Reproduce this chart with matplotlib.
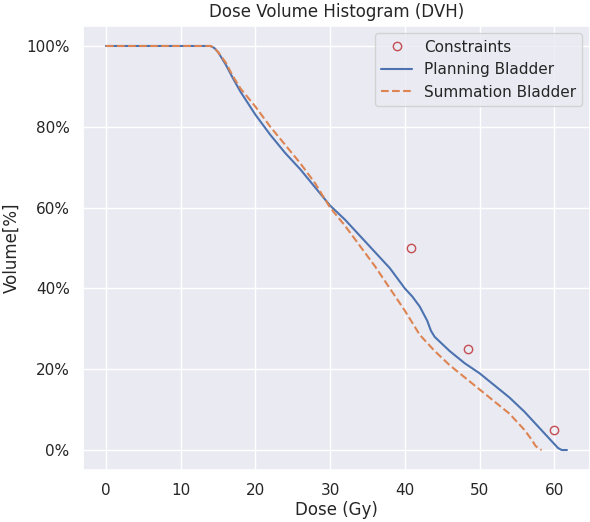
import matplotlib
matplotlib.use("Agg")
import matplotlib.pyplot as plt
from matplotlib.ticker import PercentFormatter
import seaborn as sns

sns.set_theme()

# Planning DVH (dose in Gy, volume in %)
plan_dose = [0, 14, 14.5, 15, 16, 17, 18, 20, 22, 24, 26, 28, 30, 32, 34, 36, 38,
             40, 41, 42, 43, 43.5, 44, 46, 48, 50, 52, 54, 56, 57, 58, 59, 60,
             60.5, 61, 61.7]
plan_vol = [100, 100, 99.5, 98.5, 95.5, 92, 88.7, 83, 78, 73.5, 69.5, 65, 60.5,
            57, 53, 49, 45, 40, 38, 35.5, 32, 29.5, 28, 24.5, 21.5, 19, 16, 13,
            9.5, 7.5, 5.5, 3.5, 1.5, 0.5, 0, 0]

# Summation DVH
sum_dose = [0, 14, 14.5, 15, 16, 17, 18, 20, 22, 24, 26, 28, 30, 32, 34, 36, 38,
            40, 41, 42, 43, 44, 46, 48, 50, 52, 54, 55, 56, 57, 57.5, 58, 58.3]
sum_vol = [100, 100, 99.5, 98.5, 96, 92.5, 89.5, 85, 80, 75.5, 71, 66, 60, 55.5,
           50.5, 45.5, 40, 34.5, 31.5, 28.5, 26.5, 24.5, 21, 18, 15, 12, 9, 7, 5,
           2.5, 1, 0.3, 0]

# Dose constraints
con_dose = [40.8, 48.5, 60]
con_vol = [50, 25, 5]

fig, ax = plt.subplots(figsize=(5.9, 5.22), dpi=100)
fig.subplots_adjust(left=0.1405, right=1.0, top=0.9506, bottom=0.0992)

ax.plot(con_dose, con_vol, "o", mfc="none", mec="C3", label="Constraints")
ax.plot(plan_dose, plan_vol, "-", color="C0", label="Planning Bladder")
ax.plot(sum_dose, sum_vol, "--", color="C1", label="Summation Bladder")

ax.yaxis.set_major_formatter(PercentFormatter(100, decimals=0))
ax.set_title("Dose Volume Histogram (DVH)")
ax.set_xlabel("Dose (Gy)", labelpad=2)
ax.set_ylabel("Volume[%]")
ax.legend(loc="upper right")

fig.savefig("out.png", dpi=100)
